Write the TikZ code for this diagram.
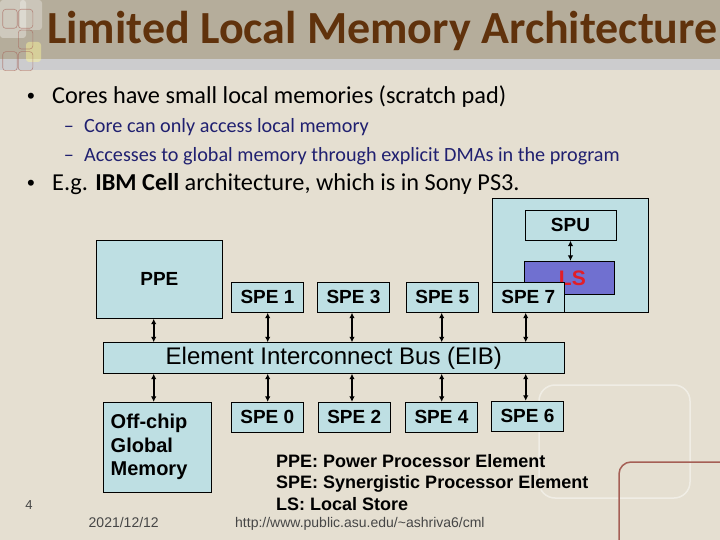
\documentclass[tikz,border=0pt]{standalone}
\usepackage{fontspec}
\usetikzlibrary{arrows.meta}
\setmainfont{Carlito}
\newfontfamily\arialfont{Liberation Sans}
\definecolor{slidebg}{RGB}{229,223,209}
\definecolor{bandbg}{RGB}{181,173,155}
\definecolor{stripbg}{RGB}{204,204,206}
\definecolor{titlebrown}{RGB}{96,50,12}
\definecolor{subblue}{RGB}{32,32,112}
\definecolor{cellfill}{RGB}{190,223,227}
\definecolor{lsfill}{RGB}{112,112,208}
\definecolor{lsred}{RGB}{226,30,40}
\definecolor{decobrown}{RGB}{165,95,85}
\definecolor{footgray}{RGB}{70,70,70}

\begin{document}
\begin{tikzpicture}[x=1bp, y=-1bp, >={Latex[length=5.5bp,width=5.5bp]},
  cell/.style={draw, line width=0.8bp, fill=cellfill, inner sep=0pt,
    font=\arialfont\bfseries\fontsize{19bp}{22bp}\selectfont},
  spebox/.style={cell, minimum width=72bp, minimum height=30bp},
  link/.style={<->, line width=1.6bp},
  txt/.style={anchor=base west, inner sep=0pt},
  bultxt/.style={txt, font=\fontsize{24.3bp}{28bp}\selectfont},
  subtxt/.style={txt, text=subblue, font=\fontsize{20.2bp}{24bp}\selectfont},
  bulmark/.style={anchor=base, inner sep=0pt, font=\arialfont\fontsize{22bp}{24bp}\selectfont},
  submark/.style={anchor=base, inner sep=0pt, text=subblue, font=\fontsize{20.2bp}{24bp}\selectfont},
  legend/.style={txt, font=\arialfont\bfseries\fontsize{18bp}{21bp}\selectfont},
  foot/.style={inner sep=0pt, text=footgray, font=\arialfont\fontsize{14bp}{16bp}\selectfont}]
\useasboundingbox (0,0) rectangle (720,540);

% slide background
\fill[slidebg] (0,0) rectangle (720,540);
\fill[bandbg] (0,0) rectangle (720,59.5);
\fill[stripbg] (0,59.5) rectangle (720,70);
\fill[white, opacity=0.35, rounded corners=3bp] (0,0) rectangle (26,38);
\fill[white, opacity=0.3, rounded corners=3bp] (20,0) rectangle (42,30);
\fill[yellow!40!white, opacity=0.45, rounded corners=3bp] (26,42) rectangle (41,62);
\foreach \xa/\ya in {2.7/9.3, 18.3/9.3, 18.3/30, 2.7/51.7, 18.3/51.7}
  \draw[decobrown, opacity=0.6, line width=0.6bp, rounded corners=3bp] (\xa,\ya) rectangle ++(14.5,19);
\draw[white, opacity=0.45, line width=1.5bp, rounded corners=16bp] (539,385) rectangle (690,498);
\draw[decobrown, line width=1.5bp, rounded corners=12bp] (619,540) -- (619,462) -- (720,462);

% title
\node[txt, text=titlebrown, font=\bfseries\fontsize{46bp}{50bp}\selectfont] (title) at (47,44)
  {Limited Local Memory Architecture};

% bullets
\node[bulmark] (dot1) at (31,104) {•};
\node[bultxt] (item1) at (52,104) {Cores have small local memories (scratch pad)};
\node[submark] (dash1) at (69,133) {–};
\node[subtxt] (sub1) at (84,133) {Core can only access local memory};
\node[submark] (dash2) at (69,162) {–};
\node[subtxt] (sub2) at (84,162) {Accesses to global memory through explicit DMAs in the program};
\node[bulmark] (dot2) at (31,191) {•};
\node[bultxt] (item2) at (52,191) {E.g. \textbf{IBM Cell} architecture, which is in Sony PS3.};

% Cell processor
\node[cell, minimum width=156.3bp, minimum height=114bp] (spu7) at (570.45,255.3) {};
\node[cell, minimum width=91bp, minimum height=30bp] (spu) at (570.5,225.3) {SPU};
\node[cell, fill=lsfill, text=lsred, minimum width=90.2bp, minimum height=33bp,
  font=\arialfont\bfseries\fontsize{21bp}{24bp}\selectfont] (ls) at (569.4,277.8) {\hspace{6bp}LS};
\draw[link] (spu.south) -- (spu.south |- ls.north);
\node[cell, minimum width=126.7bp, minimum height=78.3bp] (ppe) at (159.35,279.15) {PPE};
\node[spebox] (spe1) at (267.5,297.3) {SPE 1};
\node[spebox] (spe3) at (353.5,297.3) {SPE 3};
\node[spebox] (spe5) at (442.3,297.3) {SPE 5};
\node[spebox] (spe7) at (528.3,297.3) {SPE 7};
\node[cell, minimum width=461bp, minimum height=30.6bp,
  font=\arialfont\fontsize{24bp}{27bp}\selectfont] (eib) at (333.8,358) {Element Interconnect Bus (EIB)};
\node[cell, minimum width=108bp, minimum height=90bp, text width=93.2bp, inner xsep=7.4bp,
  align=left, font=\arialfont\bfseries\fontsize{20bp}{23.5bp}\selectfont] (mem) at (157.3,447.3)
  {Off-chip\\Global\\Memory};
\node[spebox] (spe0) at (267.3,417.3) {SPE 0};
\node[spebox] (spe2) at (354.2,417.3) {SPE 2};
\node[spebox] (spe4) at (441.5,417.3) {SPE 4};
\node[spebox] (spe6) at (527.5,416.2) {SPE 6};

% links to the bus
\coordinate (c1) at (153.7,0);
\coordinate (c2) at (267.7,0);
\coordinate (c3) at (352,0);
\coordinate (c4) at (441.7,0);
\coordinate (c5) at (525.7,0);
\draw[link] (ppe.south -| c1) -- (eib.north -| c1);
\draw[link] (spe1.south -| c2) -- (eib.north -| c2);
\draw[link] (spe3.south -| c3) -- (eib.north -| c3);
\draw[link] (spe5.south -| c4) -- (eib.north -| c4);
\draw[link] (spe7.south -| c5) -- (eib.north -| c5);
\draw[link] (eib.south -| c1) -- (mem.north -| c1);
\draw[link] (eib.south -| c2) -- (spe0.north -| c2);
\draw[link] (eib.south -| c3) -- (spe2.north -| c3);
\draw[link] (eib.south -| c4) -- (spe4.north -| c4);
\draw[link] (eib.south -| c5) -- (spe6.north -| c5);

% legend
\node[legend] (leg1) at (276,467) {PPE: Power Processor Element};
\node[legend] (leg2) at (276,488) {SPE: Synergistic Processor Element};
\node[legend] (leg3) at (276,510) {LS: Local Store};

% footer
\node[foot, font=\arialfont\fontsize{13bp}{15bp}\selectfont] (pnum) at (29,505) {4};
\node[foot, anchor=base west] (date) at (88.5,527.5) {2021/12/12};
\node[foot, anchor=base west] (url) at (235,527.5) {http://www.public.asu.edu/\textasciitilde ashriva6/cml};
\end{tikzpicture}
\end{document}
